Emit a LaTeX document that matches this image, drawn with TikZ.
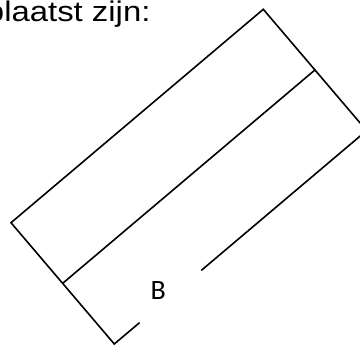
\documentclass[tikz,border=0pt]{standalone}
\usepackage{fontspec}
\setmainfont{Liberation Sans}
\newfontfamily\captionfont[FakeStretch=1.158]{Liberation Sans}
\newfontfamily\labelfont{Carlito}
\usepackage{tikz}
\usetikzlibrary{positioning,calc}

\begin{document}
\begin{tikzpicture}[x=1pt,y=-1pt,line width=1.6pt,
  edge/.style={line cap=round,line join=miter},
  captext/.style={font=\captionfont\fontsize{28.4}{30}\selectfont,inner sep=0pt},
  partlabel/.style={font=\labelfont\fontsize{28}{30}\selectfont,inner sep=0pt}]
\useasboundingbox (0,0) rectangle (360,346);
\clip (0,0) rectangle (360,346);
% corners of the tilted box
\coordinate (top) at (263.3,9.3);
\coordinate (right) at (366.6,130.6);
\coordinate (bottom) at (114.3,344);
\coordinate (left) at (11,222.7);
\coordinate (midtr) at ($(top)!0.5!(right)$);
\coordinate (midlb) at ($(left)!0.5!(bottom)$);
\coordinate (gapa) at ($(right)!0.654!(bottom)$);
\coordinate (gapb) at ($(right)!0.901!(bottom)$);
\node[captext,anchor=base west] (caption) at (-14.8,21) {plaatst zijn:};
\node[partlabel] (lblB) at (158.3,291) {B};
\draw[edge] (gapa) -- (right) -- (top) -- (left) -- (bottom) -- (gapb);
\draw[edge] (midtr) -- (midlb);
\end{tikzpicture}
\end{document}
